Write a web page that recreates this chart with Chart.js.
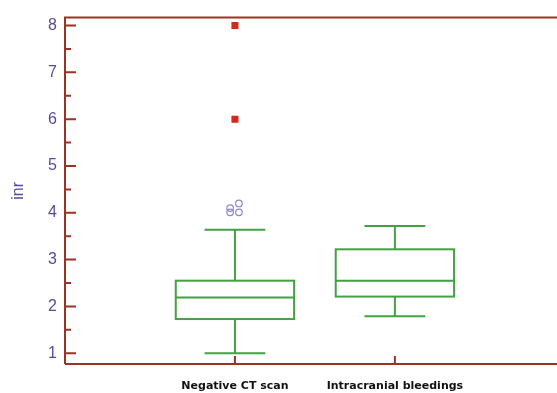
<!DOCTYPE html>
<html>
<head>
<meta charset="utf-8">
<script src="https://cdn.jsdelivr.net/npm/chart.js@4.4.1/dist/chart.umd.min.js"></script>
<style>
  html, body { margin: 0; padding: 0; background: #fff; }
  #wrap { width: 557px; height: 393px; position: relative; }
</style>
</head>
<body>
<div id="wrap"><canvas id="chart" width="557" height="393"></canvas></div>
<script>
// categories and box statistics
const categories = ['Negative CT scan', 'Intracranial bleedings'];
const whiskerLow = [1.0, 1.79];
const q1 = [1.73, 2.21];
const median = [2.19, 2.55];
const q3 = [2.55, 3.22];
const whiskerHigh = [3.64, 3.72];

// outliers (circles) and far-out values (squares), x is the category position with a small jitter
const outlierX = [0.97, 1.025, 0.97, 1.025];
const outlierY = [4.1, 4.2, 4.01, 4.01];
const farOutX = [1, 1];
const farOutY = [8.0, 6.0];

const yTicks = [1, 2, 3, 4, 5, 6, 7, 8];

const axisColor = '#9a3324';
const boxColor = '#43a043';
const labelColor = '#5b4a9c';

const boxPlugin = {
  id: 'boxes',
  beforeDatasetsDraw(chart) {
    const { ctx, scales: { x, y } } = chart;
    ctx.save();
    ctx.strokeStyle = boxColor;
    ctx.lineWidth = 2;
    categories.forEach((c, i) => {
      const cx = x.getPixelForValue(i + 1);
      const halfBox = x.getPixelForValue(i + 1 + 0.37) - cx;
      const halfCap = x.getPixelForValue(i + 1 + 0.19) - cx;
      const yLo = y.getPixelForValue(whiskerLow[i]);
      const yQ1 = y.getPixelForValue(q1[i]);
      const yMed = y.getPixelForValue(median[i]);
      const yQ3 = y.getPixelForValue(q3[i]);
      const yHi = y.getPixelForValue(whiskerHigh[i]);
      ctx.strokeRect(cx - halfBox, yQ3, halfBox * 2, yQ1 - yQ3);
      ctx.beginPath();
      ctx.moveTo(cx - halfBox, yMed); ctx.lineTo(cx + halfBox, yMed);
      ctx.moveTo(cx, yQ3); ctx.lineTo(cx, yHi);
      ctx.moveTo(cx - halfCap, yHi); ctx.lineTo(cx + halfCap, yHi);
      ctx.moveTo(cx, yQ1); ctx.lineTo(cx, yLo);
      ctx.moveTo(cx - halfCap, yLo); ctx.lineTo(cx + halfCap, yLo);
      ctx.stroke();
    });
    ctx.restore();
  },
  afterDraw(chart) {
    const { ctx, scales: { x, y }, chartArea } = chart;
    ctx.save();
    ctx.strokeStyle = axisColor;
    ctx.lineWidth = 2;
    ctx.beginPath();
    // frame: left, top, bottom (top and bottom run to the canvas edge)
    ctx.moveTo(chartArea.left, chartArea.bottom);
    ctx.lineTo(chartArea.left, chartArea.top);
    ctx.lineTo(chart.width, chartArea.top);
    ctx.moveTo(chartArea.left, chartArea.bottom);
    ctx.lineTo(chart.width, chartArea.bottom);
    // y ticks pointing inward, with minor ticks at the halves
    yTicks.forEach(v => {
      const py = y.getPixelForValue(v);
      ctx.moveTo(chartArea.left, py); ctx.lineTo(chartArea.left + 11, py);
      const pm = y.getPixelForValue(v + 0.5);
      if (pm > chartArea.top + 2) { ctx.moveTo(chartArea.left, pm); ctx.lineTo(chartArea.left + 6, pm); }
    });
    // x ticks at categories
    categories.forEach((c, i) => {
      const px = x.getPixelForValue(i + 1);
      ctx.moveTo(px, chartArea.bottom); ctx.lineTo(px, chartArea.bottom - 8);
    });
    ctx.stroke();
    ctx.restore();
  }
};

new Chart(document.getElementById('chart'), {
  type: 'scatter',
  data: {
    datasets: [
      {
        label: 'outliers',
        data: outlierX.map((v, i) => ({ x: v, y: outlierY[i] })),
        pointStyle: 'circle',
        pointRadius: 3.3,
        borderWidth: 1.2,
        borderColor: '#9486cc',
        backgroundColor: 'rgba(0,0,0,0)'
      },
      {
        label: 'far out',
        data: farOutX.map((v, i) => ({ x: v, y: farOutY[i] })),
        pointStyle: 'rect',
        pointRadius: 5,
        borderWidth: 0,
        backgroundColor: '#d42a1e'
      }
    ]
  },
  options: {
    responsive: false,
    animation: false,
    layout: { padding: { top: 14, right: 0, left: 0, bottom: 0 } },
    plugins: { legend: { display: false }, tooltip: { enabled: false } },
    scales: {
      x: {
        type: 'linear',
        min: -0.0625,
        max: 2.981,
        afterBuildTicks: s => { s.ticks = categories.map((c, i) => ({ value: i + 1 })); },
        afterFit: s => { s.height = 29; },
        grid: { display: false, drawTicks: false },
        border: { display: false },
        ticks: {
          autoSkip: false,
          maxRotation: 0,
          padding: 16,
          color: '#111',
          font: { family: 'DejaVu Sans', weight: 'bold', size: 11 },
          callback: v => categories[Math.round(v) - 1] || ''
        }
      },
      y: {
        min: 0.77,
        max: 8.17,
        afterBuildTicks: s => { s.ticks = yTicks.map(v => ({ value: v })); },
        afterFit: s => { s.width = 65; },
        grid: { display: false, drawTicks: false },
        border: { display: false },
        title: {
          display: true,
          text: 'inr',
          color: labelColor,
          padding: { top: 9, bottom: 0 },
          font: { family: 'Liberation Sans', size: 16 }
        },
        ticks: {
          padding: 8,
          color: labelColor,
          font: { family: 'Liberation Sans', size: 16 }
        }
      }
    }
  },
  plugins: [boxPlugin]
});
</script>
</body>
</html>
